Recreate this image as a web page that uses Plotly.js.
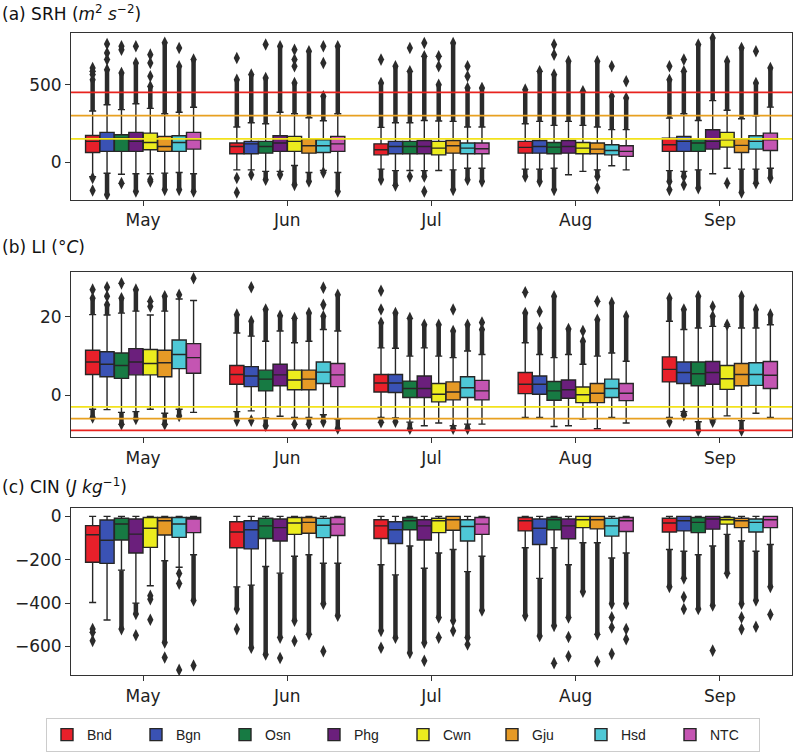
<!DOCTYPE html>
<html>
<head>
<meta charset="utf-8">
<script src="https://cdn.plot.ly/plotly-3.0.1.min.js"></script>
<style>html,body{margin:0;padding:0;background:#fff;}#chart{width:800px;height:752px;}</style>
</head>
<body>
<div id="chart"></div>
<script>
// ---------------- DATA ----------------
const months = ['May', 'Jun', 'Jul', 'Aug', 'Sep'];
const stations = ['Bnd', 'Bgn', 'Osn', 'Phg', 'Cwn', 'Gju', 'Hsd', 'NTC'];
const stationColors = ['#e8202a', '#3a52b4', '#177a43', '#6b1f7c', '#ecec1e', '#e69a26', '#4ec8d6', '#c455b2'];

// (a) SRH  — rows: stations, columns: months
const srhQ1  = [[62,54,47,58,69],[69,54,54,58,69],[69,58,54,54,69],[69,69,54,58,84],[80,69,47,54,97],[69,58,58,54,62],[69,62,54,47,84],[84,69,54,37,75]];
const srhMed = [[134,101,80,95,112],[149,118,101,101,134],[155,101,101,97,123],[134,123,101,101,134],[127,134,90,90,144],[101,106,106,84,108],[127,106,90,75,134],[144,118,86,69,144]];
const srhQ3  = [[172,123,118,134,155],[192,134,134,140,166],[177,134,134,127,149],[192,170,140,140,209],[187,166,134,127,192],[166,149,140,123,149],[170,144,123,112,170],[192,166,123,106,187]];
const srhLo  = [[-95,-50,-45,-45,-55],[-72,-50,-55,-45,-60],[-78,-60,-54,-40,-50],[-75,-60,-55,-82,-75],[-75,-22,-54,-60,-40],[-71,-67,-50,-50,-45],[-67,-54,-40,-24,-45],[-75,-67,-40,-50,-40]];
const srhHi  = [[330,227,224,248,284],[370,254,254,263,312],[339,248,254,237,269],[377,322,269,263,397],[347,312,265,237,335],[312,286,263,227,280],[322,267,227,210,299],[354,312,227,210,355]];
const srhHiRun = [[532,532,511,468,532],[597,565,619,586,586],[575,543,586,565,759],[640,748,683,651,802],[489,511,500,457,651],[770,716,769,651,737],[619,425,478,425,511],[662,748,478,414,608]];
const srhHiPts = [[[565,586,608],[672],[662],[],[619]],[[662,705,763],[],[],[],[662]],[[726,748],[759],[737],[694,759],[]],[[748],[],[769],[],[]],[[554,640,694],[619,662,726],[619,683],[],[]],[[],[],[],[],[]],[[737],[640,748],[554,619],[619],[716]],[[],[],[],[522],[]]];
const srhLoRun = [[null,null,-114,-93,-125],[-211,null,-150,-125,-93],[null,-114,null,-179,-168],[-190,-82,-93,null,null],[null,-147,null,null,null],[-179,-125,-179,-93,-196],[-179,null,-114,null,-136],[-190,-190,-125,null,-103]];
const srhLoPts = [[[-103,-183],[-103,-196],[],[],[-179]],[[],[-82],[],[],[-147]],[[-136],[],[-93],[],[]],[[],[],[-190],[],[]],[[-114,-125],[],[],[],[-136]],[[],[],[],[-168],[]],[[],[-67],[],[],[]],[[],[],[],[],[]]];
const srhThresholds = [450, 300, 150];

// (b) LI
const liQ1  = [[5.3,2.8,0.8,0.4,3.4],[4.7,2.2,0.7,0.25,3.0],[4.3,1.1,-0.6,-1.3,2.4],[5.2,2.4,-0.6,-0.8,2.8],[5.2,1.4,-1.7,-1.9,1.5],[4.7,1.4,-1.2,-1.9,2.4],[6.8,3.0,-0.6,-0.6,2.5],[5.6,2.2,-1.2,-1.4,1.7]];
const liMed = [[8.5,5.3,3.1,2.8,6.6],[7.9,4.9,3.1,2.8,5.8],[7.6,4.1,1.7,1.1,5.5],[8.5,5.2,1.7,1.4,5.8],[8.1,3.9,0.25,0.1,4.2],[8.3,4.1,0.8,0.5,5.3],[10.4,5.9,1.9,1.7,5.3],[9.6,5.2,1.1,0.5,5.1]];
const liQ3  = [[11.5,7.6,5.3,5.8,9.8],[11.1,7.3,5.3,4.9,8.5],[10.8,6.4,3.6,3.5,8.5],[11.9,7.9,4.9,3.9,8.6],[11.7,6.4,3.0,2.1,7.6],[11.5,6.4,3.4,3.0,8.1],[14.1,8.5,4.7,4.1,8.3],[13.2,8.1,3.8,3.0,8.6]];
const liLo  = [[-3.6,-4.2,-5.7,-5.7,-5.7],[-3.7,-4.0,-5.8,-5.7,-4.2],[-4.4,-5.8,-6.9,-8.0,-6.8],[-4.2,-5.4,-7.8,-7.8,-6.3],[-3.6,-5.7,-7.1,-6.1,-5.3],[-4.6,-5.7,-7.8,-8.6,-6.5],[-3.6,-5.0,-7.4,-5.7,-4.6],[-4.4,-6.1,-7.4,-7.1,-5.7]];
const liHi  = [[20.6,15.9,12.1,13.4,18.9],[20.5,15.1,12.0,10.4,16.8],[21.0,13.8,10.0,9.6,17.2],[21.5,16.4,12.1,10.4,17.6],[20.5,13.4,10.0,7.9,17.6],[21.5,13.8,9.6,10.0,17.2],[24.6,16.8,11.3,10.8,17.2],[24.2,16.4,10.4,8.7,18.0]];
const liHiRun = [[24.8,20.6,18.5,21.0,24.8],[23.1,18.9,21.0,17.2,21.9],[24.8,21.9,19.7,25.3,25.3],[27.0,20.3,18.0,16.9,20.2],[null,19.7,18.0,13.8,null],[25.3,21.0,16.4,19.3,25.3],[null,20.2,18.0,23.6,21.9],[null,25.7,16.8,20.2,20.6]];
const liHiPts = [[[27.0],[],[21.9,26.7],[26.3],[]],[[25.3,27.6],[27.6],[],[21.4],[]],[[28.6],[],[],[],[]],[[],[],[],[],[22.7]],[[22.7,24.0],[],[],[16.4],[18.0]],[[],[],[21.9],[24.0],[]],[[25.7],[23.1,27.5],[],[],[]],[[29.9],[],[18.6],[],[]]];
const liLoRun = [[-5.7,-6.5,null,null,null],[null,null,null,null,null],[-7.4,-7.8,-8.6,null,-9.0],[-6.1,null,null,null,null],[null,null,null,null,null],[-7.4,-7.4,-8.6,null,-9.0],[-5.3,-6.8,-8.6,null,null],[null,-8.5,null,null,null]];
const liLoPts = [[[],[],[-6.9],[],[-6.8]],[[],[-6.5],[-6.8],[],[-4.8,-5.1]],[[],[],[],[],[]],[[],[],[],[],[-6.8]],[[],[-7.4],[],[],[]],[[],[],[],[],[]],[[],[],[],[],[]],[[],[],[],[],[]]];
const liThresholds = [-3, -6, -9];

// (c) CIN
const cinQ1  = [[-212,-145,-102,-67,-72],[-217,-150,-125,-130,-67],[-109,-102,-62,-62,-75],[-169,-114,-109,-103,-59],[-143,-83,-75,-52,-36],[-86,-78,-64,-58,-52],[-97,-98,-114,-91,-72],[-75,-88,-83,-70,-52]];
const cinMed = [[-85,-72,-44,-20,-31],[-110,-62,-62,-55,-20],[-35,-44,-20,-16,-28],[-82,-52,-44,-44,-12],[-55,-31,-20,-16,-16],[-20,-28,-16,-16,-20],[-35,-41,-47,-44,-28],[-12,-36,-36,-20,-16]];
const cinQ3  = [[-43,-25,-16,-5,-9],[-17,-20,-25,-12,0],[-9,-9,-5,-5,-5],[-12,-12,-16,-12,0],[-5,-5,-9,0,-5],[-5,-5,0,0,-9],[-5,-9,-16,-9,-12],[-5,-5,-5,-5,0]];
const cinLo  = [[-397,-325,-223,-145,-153],[-478,-317,-270,-286,-161],[-248,-231,-137,-145,-177],[-400,-262,-239,-223,-137],[-320,-184,-169,-122,-83],[-205,-177,-153,-122,-114],[-235,-216,-255,-192,-161],[-177,-216,-184,-169,-130]];
const cinHi  = [[0,0,0,0,0],[0,0,0,0,0],[0,0,0,0,0],[0,0,0,0,0],[0,0,0,0,0],[0,0,0,0,0],[0,0,0,0,0],[0,0,0,0,0]];
const cinHiRun = [[null,null,null,null,null],[null,null,null,null,null],[null,null,null,null,null],[null,null,null,null,null],[null,null,null,null,null],[null,null,null,null,null],[null,null,null,null,null],[null,null,null,null,null]];
const cinHiPts = [[[],[],[],[],[]],[[],[],[],[],[]],[[],[],[],[],[]],[[],[],[],[],[]],[[],[],[],[],[]],[[],[],[],[],[]],[[],[],[],[],[]],[[],[],[],[],[]]];
const cinLoRun = [[null,-427,-528,-458,-325],[null,-606,-560,-552,-286],[-520,-637,-630,-505,-427],[-450,-559,-583,-466,-411],[null,-481,-466,-348,-262],[-582,-544,-481,-544,-403],[null,-403,-559,-403,-388],[-388,-458,-434,-403,-325]];
const cinLoPts = [[[-520,-535,-574],[-520],[-606],[],[]],[[],[],[],[],[-372,-427]],[[],[],[],[-677],[]],[[-548],[-653],[-666],[-556,-645],[-619]],[[-366,-382,-477],[-575],[-559],[],[]],[[-651],[],[-528],[-669],[-466,-520]],[[-263,-310,-708],[-622],[-591],[-466,-512,-634],[-509]],[[-688],[],[],[-520,-567],[-453]]];

const thresholdColors = { srh: ['#e8231e', '#e8a020', '#f2e21c'], li: ['#f2e21c', '#e8a020', '#e8231e'] };

// ---------------- BUILD ----------------
const panels = [
  {q1: srhQ1, med: srhMed, q3: srhQ3, lo: srhLo, hi: srhHi, hiRun: srhHiRun, hiPts: srhHiPts, loRun: srhLoRun, loPts: srhLoPts, xa: 'x', ya: 'y'},
  {q1: liQ1, med: liMed, q3: liQ3, lo: liLo, hi: liHi, hiRun: liHiRun, hiPts: liHiPts, loRun: liLoRun, loPts: liLoPts, xa: 'x2', ya: 'y2'},
  {q1: cinQ1, med: cinMed, q3: cinQ3, lo: cinLo, hi: cinHi, hiRun: cinHiRun, hiPts: cinHiPts, loRun: cinLoRun, loPts: cinLoPts, xa: 'x3', ya: 'y3'}
];

const groupWidth = 0.8;
const boxW = groupWidth / stations.length;
function pos(j, s) { return j - groupWidth / 2 + boxW * (s + 0.5); }

const flierColor = '#2b2b2b';
const traces = [];
panels.forEach((p, pi) => {
  stations.forEach((st, s) => {
    traces.push({
      type: 'box', name: st, legendgroup: st, showlegend: pi === 0,
      x: months.map((m, j) => pos(j, s)),
      q1: p.q1[s], median: p.med[s], q3: p.q3[s],
      lowerfence: p.lo[s], upperfence: p.hi[s],
      width: boxW * 0.98, whiskerwidth: 0.5, boxpoints: false,
      fillcolor: stationColors[s], line: {color: '#262626', width: 1.4},
      xaxis: p.xa, yaxis: p.ya, hoverinfo: 'skip'
    });
  });
  // dense flier columns and single fliers
  const rx = [], ry = [], mx = [], my = [];
  stations.forEach((st, s) => {
    months.forEach((m, j) => {
      const x = pos(j, s);
      if (p.hiRun[s][j] !== null) { rx.push(x, x, null); ry.push(p.hi[s][j], p.hiRun[s][j], null); mx.push(x); my.push(p.hiRun[s][j]); }
      if (p.loRun[s][j] !== null) { rx.push(x, x, null); ry.push(p.lo[s][j], p.loRun[s][j], null); mx.push(x); my.push(p.loRun[s][j]); }
      p.hiPts[s][j].forEach(v => { mx.push(x); my.push(v); });
      p.loPts[s][j].forEach(v => { mx.push(x); my.push(v); });
    });
  });
  traces.push({type: 'scatter', mode: 'lines', x: rx, y: ry, line: {color: flierColor, width: 4.5}, showlegend: false, hoverinfo: 'skip', xaxis: p.xa, yaxis: p.ya, connectgaps: false});
  traces.push({type: 'scatter', mode: 'markers', x: mx, y: my, marker: {symbol: 'diamond-tall', size: 9, color: flierColor}, showlegend: false, hoverinfo: 'skip', xaxis: p.xa, yaxis: p.ya});
});

const W = 800, H = 752;
const xDom = [71 / W, 792 / W];
function yDom(top, bottom) { return [1 - bottom / H, 1 - top / H]; }
const tickFont = {family: 'DejaVu Sans, sans-serif', size: 17, color: '#222'};
function xAxis(anchor) {
  return {domain: xDom, anchor: anchor, range: [-0.5, 4.5], tickvals: months.map((m, j) => j), ticktext: months,
    ticks: 'outside', ticklen: 5, tickcolor: '#333', showline: true, mirror: true, linecolor: '#333', linewidth: 1,
    showgrid: false, zeroline: false, tickfont: tickFont, fixedrange: true};
}
function yAxis(anchor, dom, range, tv) {
  return {domain: dom, anchor: anchor, range: range, tickvals: tv, ticks: 'outside', ticklen: 5, tickcolor: '#333',
    showline: true, mirror: true, linecolor: '#333', linewidth: 1, showgrid: false, zeroline: false, tickfont: tickFont, fixedrange: true};
}

const shapes = [];
srhThresholds.forEach((v, i) => shapes.push({type: 'line', xref: 'x domain', yref: 'y', x0: 0, x1: 1, y0: v, y1: v, line: {color: thresholdColors.srh[i], width: 1.6}, layer: 'above'}));
liThresholds.forEach((v, i) => shapes.push({type: 'line', xref: 'x2 domain', yref: 'y2', x0: 0, x1: 1, y0: v, y1: v, line: {color: thresholdColors.li[i], width: 1.6}, layer: 'above'}));

const titleFont = {family: 'DejaVu Sans, sans-serif', size: 17, color: '#111'};
const annotations = [
  {text: '(a) SRH (<i>m</i><sup>2</sup> <i>s</i><sup>−2</sup>)', xref: 'paper', yref: 'paper', x: 0, y: 1 - 13 / H, xanchor: 'left', yanchor: 'middle', showarrow: false, font: titleFont},
  {text: '(b) LI (°<i>C</i>)', xref: 'paper', yref: 'paper', x: 0, y: 1 - 247 / H, xanchor: 'left', yanchor: 'middle', showarrow: false, font: titleFont},
  {text: '(c) CIN (<i>J kg</i><sup>−1</sup>)', xref: 'paper', yref: 'paper', x: 0, y: 1 - 487 / H, xanchor: 'left', yanchor: 'middle', showarrow: false, font: titleFont}
];

const layout = {
  width: W, height: H, margin: {l: 0, r: 0, t: 0, b: 0},
  paper_bgcolor: '#fff', plot_bgcolor: '#fff',
  boxmode: 'overlay',
  xaxis: xAxis('y'), xaxis2: xAxis('y2'), xaxis3: xAxis('y3'),
  yaxis: yAxis('x', yDom(33, 200), [-243, 834], [0, 500]),
  yaxis2: yAxis('x2', yDom(272, 438), [-10.8, 31.6], [0, 20]),
  yaxis3: yAxis('x3', yDom(509, 676), [-732, 37], [-600, -400, -200, 0]),
  shapes: shapes, annotations: annotations,
  showlegend: true,
  legend: {orientation: 'h', x: 46 / W, xanchor: 'left', y: 1 - 719 / H, yanchor: 'top',
    bordercolor: '#cccccc', borderwidth: 1, bgcolor: '#fff',
    font: {family: 'Liberation Sans Narrow, Liberation Sans, sans-serif', size: 14, color: '#222'},
    entrywidth: 44, entrywidthmode: 'pixels', traceorder: 'normal'}
};

Plotly.newPlot('chart', traces, layout, {staticPlot: true, displayModeBar: false});
</script>
</body>
</html>
